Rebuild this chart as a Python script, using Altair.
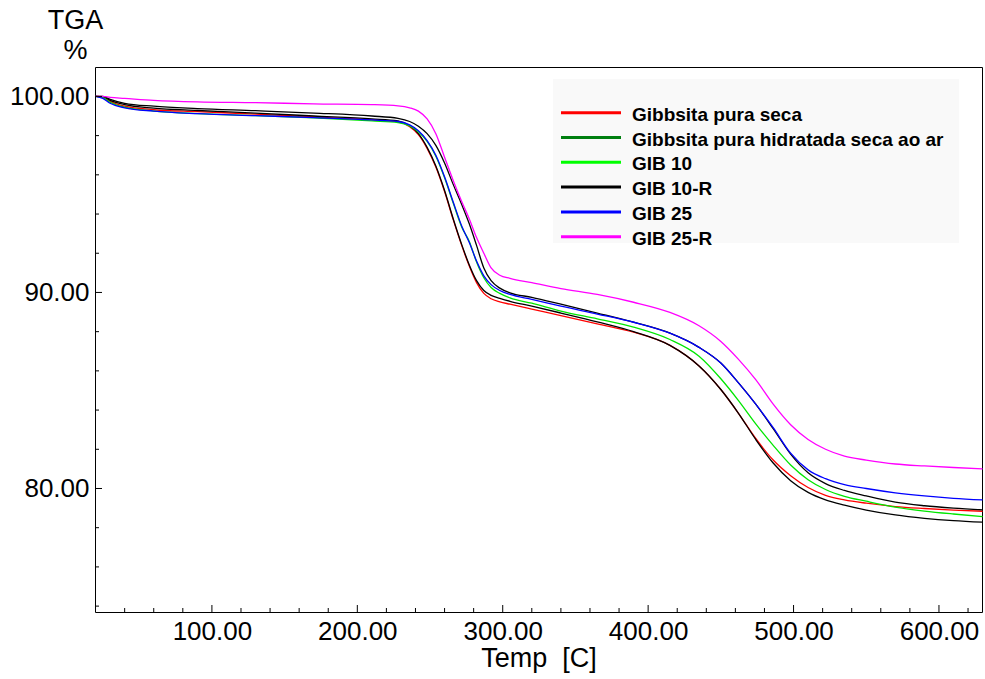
import altair as alt
import pandas as pd

# Temperature grid (°C) shared by every TGA run
temp = [20, 25, 30, 40, 60, 90, 130, 170, 210, 228, 236, 242, 248, 254, 260, 266,
        272, 277, 282, 287, 292, 298, 305, 320, 340, 365, 390, 415, 435, 450, 462,
        474, 486, 498, 510, 522, 535, 550, 570, 590, 610, 630]

# Residual mass (%) for each sample
gib_seca = [100.0, 99.97, 99.75, 99.5, 99.32, 99.22, 99.1, 98.95, 98.8, 98.7, 98.45,
            98.05, 97.35, 96.4, 95.15, 93.7, 92.35, 91.35, 90.5, 89.95, 89.68, 89.52,
            89.4, 89.15, 88.82, 88.4, 87.97, 87.3, 86.25, 85.05, 83.85, 82.55, 81.45,
            80.65, 80.05, 79.65, 79.42, 79.25, 79.08, 78.98, 78.9, 78.84]
gib_hidratada = [100.0, 99.98, 99.8, 99.58, 99.4, 99.28, 99.15, 99.0, 98.85, 98.75,
                 98.5, 98.1, 97.4, 96.45, 95.2, 93.75, 92.4, 91.4, 90.6, 90.1, 89.85,
                 89.7, 89.55, 89.3, 88.95, 88.5, 88.0, 87.3, 86.25, 85.05, 83.85, 82.5,
                 81.3, 80.4, 79.8, 79.42, 79.15, 78.9, 78.65, 78.48, 78.36, 78.28]
gib_10 = [100.0, 99.95, 99.7, 99.45, 99.25, 99.12, 99.02, 98.9, 98.75, 98.67, 98.5,
          98.2, 97.7, 96.95, 95.85, 94.55, 93.3, 92.6, 91.55, 90.75, 90.25, 89.95,
          89.72, 89.45, 89.05, 88.65, 88.23, 87.6, 86.75, 85.6, 84.5, 83.3, 82.2,
          81.2, 80.45, 79.95, 79.6, 79.35, 79.05, 78.85, 78.7, 78.57]
gib_10r = [100.0, 100.0, 99.85, 99.65, 99.5, 99.38, 99.27, 99.15, 99.0, 98.88, 98.72,
           98.48, 98.1, 97.5, 96.6, 95.5, 94.45, 93.5, 92.4, 91.25, 90.6, 90.22,
           89.98, 89.75, 89.4, 88.95, 88.48, 87.92, 87.2, 86.4, 85.4, 84.3, 83.05,
           81.75, 80.8, 80.25, 79.9, 79.62, 79.3, 79.12, 79.0, 78.91]
gib_25 = [100.0, 99.9, 99.65, 99.42, 99.25, 99.12, 99.02, 98.92, 98.8, 98.72, 98.55,
          98.25, 97.75, 97.0, 95.9, 94.6, 93.35, 92.55, 91.6, 90.85, 90.4, 90.1,
          89.9, 89.65, 89.3, 88.9, 88.48, 87.92, 87.2, 86.4, 85.4, 84.3, 83.1,
          81.8, 80.95, 80.5, 80.2, 80.0, 79.78, 79.62, 79.5, 79.42]
gib_25r = [100.0, 100.0, 99.95, 99.9, 99.8, 99.72, 99.68, 99.62, 99.58, 99.52, 99.42,
           99.25, 98.85, 98.1, 96.9, 95.7, 94.6, 93.75, 92.8, 92.0, 91.25, 90.88,
           90.72, 90.5, 90.2, 89.9, 89.5, 88.98, 88.3, 87.5, 86.6, 85.55, 84.3,
           83.25, 82.5, 82.0, 81.65, 81.45, 81.25, 81.15, 81.07, 81.0]

series_names = ["Gibbsita pura seca", "Gibbsita pura hidratada seca ao ar",
                "GIB 10", "GIB 10-R", "GIB 25", "GIB 25-R"]
series_values = [gib_seca, gib_hidratada, gib_10, gib_10r, gib_25, gib_25r]
# colour each trace is drawn with, and the swatch shown in the key
line_colors = ["#ff0000", "#000000", "#00e600", "#000000", "#0000ff", "#ff00ff"]
swatch_colors = ["#ff0000", "#007f10", "#00ff00", "#000000", "#0000ff", "#ff00ff"]

x_ticks = [100, 200, 300, 400, 500, 600]
x_minor = [t for t in range(40, 630, 20) if t % 100 != 0]
y_ticks = [80, 90, 100]
y_minor = [v for v in range(74, 101, 2) if v % 10 != 0]

W, H = 887, 545
FONT = "Liberation Sans"

rows = []
for name, vals in zip(series_names, series_values):
    for t, v in zip(temp, vals):
        rows.append({"temp": t, "mass": v, "series": name})
df = pd.DataFrame(rows)

x_scale = alt.Scale(domain=[19.6, 629.6], nice=False, zero=False)
y_scale = alt.Scale(domain=[73.7, 101.5], nice=False, zero=False)

x_axis = alt.Axis(values=x_ticks, format=".2f", title="Temp\u00a0\u00a0[C]",
                  ticks=False, domain=False, grid=False, labelPadding=6,
                  labelFontSize=26, labelFont=FONT, labelColor="black",
                  titleFontSize=27, titleFont=FONT, titleFontWeight="normal",
                  titleColor="black", titlePadding=1, labelFlush=False)
y_axis = alt.Axis(values=y_ticks, format=".2f", title=["TGA", "%"],
                  ticks=False, domain=False, grid=False, labelPadding=6,
                  labelFontSize=26, labelFont=FONT, labelColor="black",
                  titleFontSize=27, titleFont=FONT, titleFontWeight="normal",
                  titleColor="black", titleAngle=0, titleAlign="center",
                  titleBaseline="top", titleX=-20, titleY=-60, titleLineHeight=30)

lines = alt.Chart(df).mark_line(strokeWidth=1.3, interpolate="monotone").encode(
    x=alt.X("temp:Q", scale=x_scale, axis=x_axis),
    y=alt.Y("mass:Q", scale=y_scale, axis=y_axis),
    color=alt.Color("series:N", scale=alt.Scale(domain=series_names, range=line_colors),
                    legend=None),
    detail="series:N",
    order=alt.Order("temp:Q"),
)

# inward tick marks along the bottom and left edges
xt = pd.DataFrame({"temp": x_ticks + x_minor,
                   "len": [7] * len(x_ticks) + [4] * len(x_minor)})
x_tick_marks = alt.Chart(xt).transform_calculate(top=f"{H} - datum.len").mark_rule(
    color="black", strokeWidth=1).encode(
    x=alt.X("temp:Q", scale=x_scale, axis=x_axis),
    y=alt.Y("top:Q", scale=None),
    y2=alt.value(H),
)

yt = pd.DataFrame({"mass": y_ticks + y_minor,
                   "len": [7] * len(y_ticks) + [4] * len(y_minor)})
y_tick_marks = alt.Chart(yt).mark_rule(color="black", strokeWidth=1).encode(
    y=alt.Y("mass:Q", scale=y_scale, axis=y_axis),
    x=alt.X("len:Q", scale=None),
    x2=alt.value(0),
)

# key box in the upper right
key_bg = alt.Chart(pd.DataFrame({"k": [0]})).mark_rect(color="#f9f9f9").encode(
    x=alt.value(458), x2=alt.value(864), y=alt.value(12), y2=alt.value(176))

key = pd.DataFrame({"series": series_names, "swatch": swatch_colors,
                    "row": list(range(len(series_names)))})
key_lines = alt.Chart(key).transform_calculate(ypix="45.7 + datum.row * 24.8").mark_rule(
    strokeWidth=3).encode(
    x=alt.value(466), x2=alt.value(526),
    y=alt.Y("ypix:Q", scale=None),
    color=alt.Color("swatch:N", scale=None),
)
key_text = alt.Chart(key).transform_calculate(ypix="53.7 + datum.row * 24.8").mark_text(
    align="left", baseline="alphabetic", font=FONT, fontWeight="bold", fontSize=19,
    color="black").encode(
    x=alt.value(537),
    y=alt.Y("ypix:Q", scale=None),
    text="series:N",
)

chart = alt.layer(key_bg, lines, x_tick_marks, y_tick_marks, key_lines, key_text).properties(
    width=W, height=H,
    autosize=alt.AutoSizeParams(type="none"),
    padding={"left": 95, "top": 67, "right": 3, "bottom": 67},
    background="white",
).configure_view(stroke="black", strokeWidth=1)

chart.save("out.html", embed_options={"renderer": "svg", "actions": False})
